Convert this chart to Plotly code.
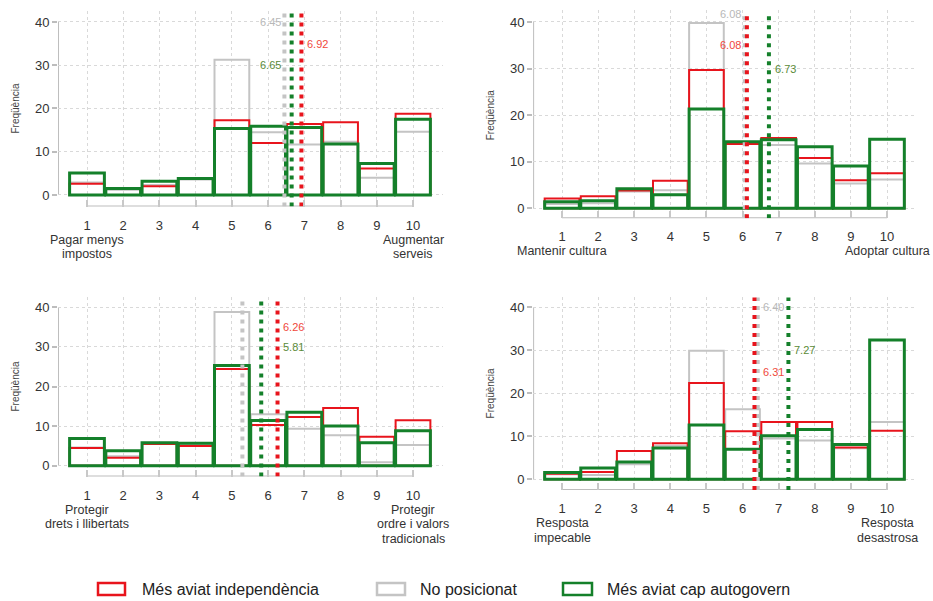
import plotly.graph_objects as go

W, H = 933, 601

# ---------------- data ----------------
categories = [1, 2, 3, 4, 5, 6, 7, 8, 9, 10]
tick_labels = ["1", "2", "3", "4", "5", "6", "7", "8", "9", "10"]

series_names = ["Més aviat independència", "No posicionat", "Més aviat cap autogovern"]

# Panel 1: impostos vs serveis
p1_indep = [2.6, 1.5, 2.0, 3.7, 17.3, 12.0, 16.4, 16.8, 6.1, 18.8]
p1_nopos = [2.9, 1.2, 2.3, 3.6, 31.3, 14.5, 11.7, 12.3, 4.0, 14.6]
p1_autog = [5.1, 1.5, 3.2, 3.8, 15.4, 15.9, 15.6, 11.8, 7.3, 17.5]
p1_means = [6.92, 6.45, 6.65]
p1_mean_labels = ["6.92", "6.45", "6.65"]

# Panel 2: cultura
p2_indep = [2.1, 2.6, 3.8, 5.9, 29.7, 13.8, 15.1, 10.8, 6.0, 7.5]
p2_nopos = [0.9, 1.1, 3.6, 3.9, 39.8, 14.0, 13.6, 9.6, 5.3, 6.2]
p2_autog = [1.4, 1.6, 4.2, 2.9, 21.3, 14.3, 14.7, 13.2, 9.1, 14.8]
p2_means = [6.12, 6.06, 6.73]
p2_mean_labels = ["6.08", "6.08", "6.73"]

# Panel 3: drets vs ordre
p3_indep = [4.5, 2.0, 5.5, 5.0, 24.4, 10.3, 12.3, 14.6, 7.3, 11.5]
p3_nopos = [4.6, 2.4, 5.6, 5.2, 38.8, 13.0, 9.3, 7.7, 0.9, 5.2]
p3_autog = [6.9, 3.8, 5.8, 5.7, 25.3, 11.4, 13.5, 10.0, 5.8, 8.8]
p3_means = [6.26, 5.29, 5.81]
p3_mean_labels = ["6.26", "5.29", "5.81"]

# Panel 4: resposta
p4_indep = [1.3, 1.7, 6.6, 8.4, 22.4, 11.2, 13.3, 13.3, 7.4, 11.3]
p4_nopos = [1.2, 1.0, 3.5, 7.8, 29.9, 16.3, 9.5, 9.0, 7.2, 13.3]
p4_autog = [1.6, 2.6, 4.0, 7.3, 12.6, 7.0, 10.1, 11.6, 8.1, 32.4]
p4_means = [6.33, 6.42, 7.27]
p4_mean_labels = ["6.31", "6.40", "7.27"]

p1_ends = [["Pagar menys", "impostos"], ["Augmentar", "serveis"]]
p2_ends = [["Mantenir cultura"], ["Adoptar cultura"]]
p3_ends = [["Protegir", "drets i llibertats"], ["Protegir", "ordre i valors", "tradicionals"]]
p4_ends = [["Resposta", "impecable"], ["Resposta", "desastrosa"]]

y_title = "Freqüència"
y_ticks = [0, 10, 20, 30, 40]

# ---------------- styles ----------------
line_colors = ["#e8141c", "#c4c4c4", "#14802a"]
text_colors = ["#f0483c", "#b8b8b8", "#5a8a38"]
line_widths = [2, 2, 3]
draw_order = [1, 0, 2]  # gray, red, green on top

FONT = "Liberation Sans, Arial, sans-serif"

def px_x(p):
    return p / W

def px_y(p):
    return 1 - p / H

XR = [0.2, 10.83]
YTOP = 42.5

# per panel geometry: px of x=1, x=10, y=0, y=40, axis-line px
geoms = [
    dict(x1=87, x10=413, y0=195.0, y40=22.0, yax=206.5),
    dict(x1=562, x10=887, y0=208.3, y40=22.0, yax=218.3),
    dict(x1=87, x10=413, y0=465.7, y40=307.3, yax=476.5),
    dict(x1=562, x10=887, y0=479.3, y40=307.3, yax=490.0),
]

panels = [
    (p1_indep, p1_nopos, p1_autog, p1_means, p1_mean_labels, p1_ends),
    (p2_indep, p2_nopos, p2_autog, p2_means, p2_mean_labels, p2_ends),
    (p3_indep, p3_nopos, p3_autog, p3_means, p3_mean_labels, p3_ends),
    (p4_indep, p4_nopos, p4_autog, p4_means, p4_mean_labels, p4_ends),
]

# mean label placement: (series index, y, side, anchor series index)
label_places = [
    [(1, 40, "left", 1), (0, 35, "right", 0), (2, 30, "left", 1)],
    [(1, 41.7, "left", 1), (0, 35, "left", 1), (2, 30, "right", 2)],
    [(1, 43, "left", 1), (0, 35, "right", 0), (2, 30, "right", 0)],
    [(1, 40, "right", 1), (0, 25, "right", 1), (2, 30, "right", 2)],
]

fig = go.Figure()
layout = dict(
    width=W, height=H, autosize=False,
    margin=dict(l=0, r=0, t=0, b=0),
    paper_bgcolor="white", plot_bgcolor="white",
    barmode="overlay", showlegend=False,
    font=dict(family=FONT, color="#333333"),
)
shapes = []
annotations = []

for i, (geo, pdata) in enumerate(zip(geoms, panels)):
    sx = (geo["x10"] - geo["x1"]) / 9.0
    sy = (geo["y0"] - geo["y40"]) / 40.0
    ymin = -(geo["yax"] - geo["y0"]) / sy
    left_px = geo["x1"] - (1 - XR[0]) * sx
    right_px = geo["x10"] + (XR[1] - 10) * sx
    top_px = geo["y0"] - YTOP * sy
    bot_px = geo["yax"]
    xa = "xaxis" if i == 0 else f"xaxis{i+1}"
    ya = "yaxis" if i == 0 else f"yaxis{i+1}"
    xr = "x" if i == 0 else f"x{i+1}"
    yr = "y" if i == 0 else f"y{i+1}"
    layout[xa] = dict(
        domain=[px_x(left_px), px_x(right_px)], range=XR,
        anchor="free", position=px_y(bot_px),
        tickmode="array", tickvals=categories, ticktext=tick_labels,
        ticks="inside", ticklen=7, tickwidth=1.5, tickcolor="#c8c8c8",
        showline=False, zeroline=False,
        showgrid=True, gridcolor="#d9d9d9", griddash="dot", gridwidth=1,
        tickfont=dict(size=13, color="#333333", family=FONT),
        ticklabelstandoff=9,
    )
    layout[ya] = dict(
        domain=[px_y(bot_px), px_y(top_px)], range=[ymin, YTOP], anchor=xr,
        tickmode="array", tickvals=y_ticks,
        ticks="outside", ticklen=5, tickwidth=1.5, tickcolor="#bdbdbd",
        showline=False, zeroline=False,
        showgrid=True, gridcolor="#d9d9d9", griddash="dot", gridwidth=1,
        tickfont=dict(size=13, color="#333333", family=FONT),
    )
    series = [pdata[0], pdata[1], pdata[2]]
    means = pdata[3]
    mlabels = pdata[4]
    ends = pdata[5]
    for s in draw_order:
        fig.add_trace(go.Bar(
            x=categories, y=series[s], width=0.96, xaxis=xr, yaxis=yr,
            name=series_names[s],
            marker=dict(color="rgba(0,0,0,0)",
                        line=dict(color=line_colors[s], width=line_widths[s])),
            hoverinfo="x+y+name",
        ))
    for s in [1, 0, 2]:
        fig.add_trace(go.Scatter(
            x=[means[s], means[s]], y=[ymin, 42.3], mode="lines",
            xaxis=xr, yaxis=yr, name=series_names[s],
            line=dict(color=line_colors[s], width=4, dash="4px,5px"),
            hoverinfo="skip",
        ))
    # axis lines
    shapes.append(dict(type="line", xref=xr, yref=yr, x0=XR[0], x1=XR[0], y0=0, y1=40,
                       line=dict(color="#bdbdbd", width=2), layer="below"))
    shapes.append(dict(type="line", xref=xr, yref=yr, x0=1, x1=10, y0=ymin, y1=ymin,
                       line=dict(color="#bdbdbd", width=2), layer="below"))
    # mean labels
    for (s, yv, side, anc) in label_places[i]:
        xv = means[anc]
        if side == "left":
            annotations.append(dict(x=xv - 0.04, y=yv, xref=xr, yref=yr, text=mlabels[s],
                                    showarrow=False, xanchor="right", yanchor="middle",
                                    font=dict(size=11, color=text_colors[s], family=FONT)))
        else:
            annotations.append(dict(x=xv + 0.1, y=yv, xref=xr, yref=yr, text=mlabels[s],
                                    showarrow=False, xanchor="left", yanchor="middle",
                                    font=dict(size=11, color=text_colors[s], family=FONT)))
    # end labels (one annotation per line, tight line spacing)
    for k, xv in enumerate([1, 10]):
        for j, line_txt in enumerate(ends[k]):
            annotations.append(dict(x=xv, y=px_y(geo["yax"] + 33 + 14.5 * j), xref=xr, yref="paper",
                                    text=line_txt, showarrow=False, xanchor="center",
                                    yanchor="middle", borderpad=0,
                                    font=dict(size=12.5, color="#333333", family=FONT)))
    # y title
    annotations.append(dict(x=px_x(left_px - 43), y=20, xref="paper", yref=yr, text=y_title,
                            showarrow=False, textangle=-90, xanchor="center", yanchor="middle",
                            font=dict(size=10, color="#444444", family=FONT)))

# manual legend
legend_items = [(98, 125, 140), (377, 405, 418), (563, 592, 605)]
for s, (b0, b1, tx) in enumerate(legend_items):
    shapes.append(dict(type="rect", xref="paper", yref="paper",
                       x0=px_x(b0), x1=px_x(b1), y0=px_y(595), y1=px_y(583),
                       line=dict(color=line_colors[s], width=2.5), fillcolor="white"))
    annotations.append(dict(x=px_x(tx), y=px_y(589), xref="paper", yref="paper",
                            text=series_names[s], showarrow=False, xanchor="left",
                            yanchor="middle", font=dict(size=16, color="#222222", family=FONT)))

layout["shapes"] = shapes
layout["annotations"] = annotations
fig.update_layout(**layout)
fig.write_html("out.html",
               config={"displayModeBar": False},
               post_script="document.body.style.margin='0';document.body.style.overflow='hidden';")
